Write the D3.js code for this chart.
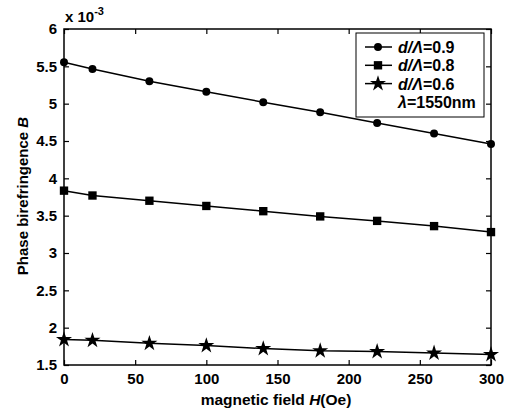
<!DOCTYPE html>
<html>
<head>
<meta charset="utf-8">
<script src="https://cdn.jsdelivr.net/npm/d3@7"></script>
<style>
  body { margin: 0; background: #fff; }
  text { font-family: "Liberation Sans", Arial, sans-serif; font-weight: bold; }
</style>
</head>
<body>
<script>
var fieldH = [0, 20, 60, 100, 140, 180, 220, 260, 300];
var b09 = [5.555, 5.465, 5.30, 5.16, 5.02, 4.885, 4.74, 4.60, 4.46];
var b08 = [3.835, 3.77, 3.70, 3.63, 3.56, 3.49, 3.43, 3.36, 3.28];
var b06 = [1.84, 1.83, 1.79, 1.76, 1.72, 1.69, 1.68, 1.66, 1.64];
var seriesNames = ["0.9", "0.8", "0.6"];
var xTicks = [0, 50, 100, 150, 200, 250, 300];
var yTicks = [1.5, 2, 2.5, 3, 3.5, 4, 4.5, 5, 5.5, 6];

var W = 513, H = 414;
var pLeft = 64, pRight = 491, pTop = 29, pBottom = 365;

var svg = d3.select("body")
		.append("svg")
		.attr("width", W)
		.attr("height", H);

var x = d3.scaleLinear().domain([0, 300]).range([pLeft, pRight]);
var y = d3.scaleLinear().domain([1.5, 6]).range([pBottom, pTop]);

// box
svg.append("rect")
		.attr("x", pLeft).attr("y", pTop)
		.attr("width", pRight - pLeft).attr("height", pBottom - pTop)
		.attr("fill", "none").attr("stroke", "#000").attr("stroke-width", 1.5);

// axes, ticks pointing inward like matlab
var fmt = function(d) { return d; };
var bx = svg.append("g").attr("transform", "translate(0," + pBottom + ")")
		.call(d3.axisBottom(x).tickValues(xTicks).tickSize(-5).tickPadding(8).tickFormat(fmt));
var tx = svg.append("g").attr("transform", "translate(0," + pTop + ")")
		.call(d3.axisTop(x).tickValues(xTicks).tickSize(-5).tickFormat(""));
var ly = svg.append("g").attr("transform", "translate(" + pLeft + ",0)")
		.call(d3.axisLeft(y).tickValues(yTicks).tickSize(-5).tickPadding(7).tickFormat(fmt));
var ry = svg.append("g").attr("transform", "translate(" + pRight + ",0)")
		.call(d3.axisRight(y).tickValues(yTicks).tickSize(-5).tickFormat(""));

[bx, tx, ly, ry].forEach(function(g) {
	g.select(".domain").remove();
	g.selectAll("line").attr("stroke", "#000").attr("stroke-width", 1.2);
	g.selectAll("text").attr("fill", "#000").style("font-size", "15px")
		.style("font-family", "'Liberation Sans', Arial, sans-serif").style("font-weight", "bold");
});

// x 10^-3
var mult = svg.append("text").attr("x", 65).attr("y", 22).style("font-size", "15px");
mult.append("tspan").text("x 10");
mult.append("tspan").attr("dy", -7).style("font-size", "11px").text("-3");

// axis titles
var xl = svg.append("text").attr("x", 276).attr("y", 405).attr("text-anchor", "middle")
		.style("font-size", "15.5px");
xl.append("tspan").text("magnetic field ");
xl.append("tspan").style("font-style", "italic").text("H");
xl.append("tspan").text("(Oe)");

var yl = svg.append("text").attr("transform", "translate(28,196) rotate(-90)")
		.attr("text-anchor", "middle").style("font-size", "15px");
yl.append("tspan").text("Phase birefringence  ");
yl.append("tspan").style("font-style", "italic").text("B");

// series
var line = d3.line().x(function(d) { return x(d[0]); }).y(function(d) { return y(d[1]); });
var allSeries = [b09, b08, b06];
var symbols = [d3.symbolCircle, d3.symbolSquare, d3.symbolStar];
var symSize = [50, 70, 80];

allSeries.forEach(function(vals, i) {
	var pts = fieldH.map(function(h, k) { return [h, vals[k]]; });
	svg.append("path").attr("d", line(pts))
		.attr("fill", "none").attr("stroke", "#000").attr("stroke-width", 1.5);
	svg.selectAll(".m" + i).data(pts).enter().append("path")
		.attr("transform", function(d) { return "translate(" + x(d[0]) + "," + y(d[1]) + ")"; })
		.attr("d", d3.symbol().type(symbols[i]).size(symSize[i]))
		.attr("fill", "#000");
});

// legend
var lg = svg.append("g");
lg.append("rect").attr("x", 356).attr("y", 33).attr("width", 128).attr("height", 84)
		.attr("fill", "#fff").attr("stroke", "#000").attr("stroke-width", 1);
seriesNames.forEach(function(n, i) {
	var yy = 47 + i * 18.3;
	lg.append("line").attr("x1", 365).attr("x2", 392).attr("y1", yy).attr("y2", yy)
		.attr("stroke", "#000").attr("stroke-width", 1.5);
	lg.append("path").attr("transform", "translate(378," + yy + ")")
		.attr("d", d3.symbol().type(symbols[i]).size(symSize[i])).attr("fill", "#000");
	var t = lg.append("text").attr("x", 398).attr("y", yy + 6).style("font-size", "16px");
	t.append("tspan").style("font-style", "italic").text("d/\u039B");
	t.append("tspan").text("=" + n);
});
var lam = lg.append("text").attr("x", 398).attr("y", 108).style("font-size", "16px");
lam.append("tspan").style("font-style", "italic").text("\u03BB");
lam.append("tspan").text("=1550nm");
</script>
</body>
</html>
